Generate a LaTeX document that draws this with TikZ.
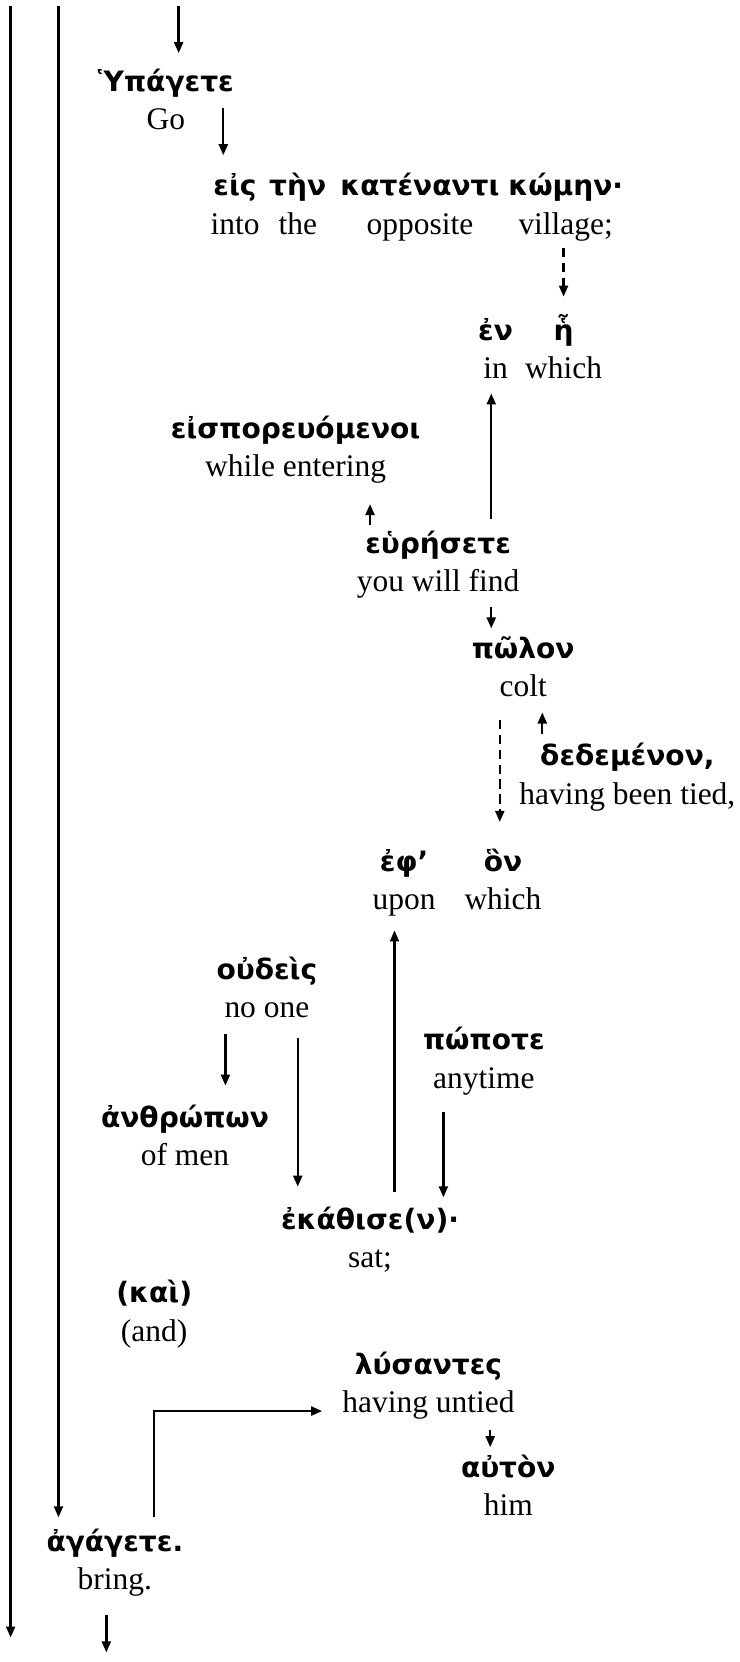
\documentclass[tikz,border=0pt]{standalone}
\usepackage{fontspec}
\setmainfont{Liberation Serif}
\newfontfamily\gkfont{DejaVu Sans}
\newcommand\gk{\gkfont\bfseries\fontsize{13.2}{18}\selectfont}
\newcommand\gw[2]{{\gk\strut #1}\\\strut #2}
\usetikzlibrary{arrows.meta,calc}

\begin{document}
\begin{tikzpicture}[x=.5pt,y=-.5pt,
  wd/.style={align=center,inner sep=0pt,font=\fontsize{14.8}{18}\selectfont},
  arr/.style={-{Triangle[length=5.2pt,width=4.2pt]},line width=1.1pt},
  dsh/.style={arr,dash pattern=on 4.5pt off 2.5pt}]
\useasboundingbox (0,0) rectangle (695,1563);
\node[wd] (hyp) at (156,97) {\gw{Ὑπάγετε}{Go}};
\node[wd] (eis) at (221,195) {\gw{εἰς}{into}};
\node[wd] (ten) at (280,195) {\gw{τὴν}{the}};
\node[wd] (kat) at (395,195) {\gw{κατέναντι}{opposite}};
\node[wd] (kom) at (532,195) {\gw{κώμην·}{village;}};
\node[wd] (en) at (466,331) {\gw{ἐν}{in}};
\node[wd] (he) at (530,331) {\gw{ἧ}{which}};
\node[wd] (eisp) at (278,423) {\gw{εἰσπορευόμενοι}{while entering}};
\node[wd] (heur) at (412,531) {\gw{εὑρήσετε}{you will find}};
\node[wd] (pol) at (492,630) {\gw{πῶλον}{colt}};
\node[wd] (ded) at (590,731) {\gw{δεδεμένον,}{having been tied,}};
\node[wd] (eph) at (380,830) {\gw{ἐφ’}{upon}};
\node[wd] (hon) at (473,830) {\gw{ὃν}{which}};
\node[wd] (oud) at (251,932) {\gw{οὐδεὶς}{no one}};
\node[wd] (popo) at (455,998) {\gw{πώποτε}{anytime}};
\node[wd] (anth) at (174,1071) {\gw{ἀνθρώπων}{of men}};
\node[wd] (ekat) at (348,1167) {\gw{ἐκάθισε(ν)·}{sat;}};
\node[wd] (kai) at (145,1236) {\gw{(καὶ)}{(and)}};
\node[wd] (lys) at (403,1303) {\gw{λύσαντες}{having untied}};
\node[wd] (aut) at (478,1400) {\gw{αὐτὸν}{him}};
\node[wd] (agag) at (108,1470) {\gw{ἀγάγετε.}{bring.}};
\coordinate (topA) at (10,6);
\coordinate (endA) at (10,1540);
\coordinate (topB) at (55,6);
\coordinate (topin) at (168,6);
\coordinate (out) at (100,1554);
\draw[arr] (topA) -- (endA);
\draw[arr] (topB) -- ($(agag)+(-53,-43)$);
\draw[arr] (topin) -- ($(hyp)+(12,-47)$);
\draw[arr] ($(eis)+(-11,-93)$) -- ($(eis)+(-11,-49)$);
\draw[dsh] ($(kom)+(-2,38)$) -- ($(he)+(0,-52)$);
\draw[arr] ($(heur)+(50,-43)$) -- ($(en)+(-4,39)$);
\draw[arr] ($(heur)+(-64,-37)$) -- ($(eisp)+(70,51)$);
\draw[arr] ($(heur)+(50,40)$) -- ($(pol)+(-30,-39)$);
\draw[arr] ($(ded)+(-80,-41)$) -- ($(pol)+(18,40)$);
\draw[dsh] ($(pol)+(-22,47)$) -- ($(hon)+(-3,-57)$);
\draw[arr] ($(ekat)+(23,-46)$) -- ($(eph)+(-9,45)$);
\draw[arr] ($(oud)+(-39,40)$) -- ($(anth)+(38,-50)$);
\draw[arr] ($(oud)+(29,44)$) -- ($(ekat)+(-68,-51)$);
\draw[arr] ($(popo)+(-38,48)$) -- ($(ekat)+(69,-41)$);
\draw[arr] ($(lys)+(58,42)$) -- ($(aut)+(-17,-39)$);
\draw[arr] ($(agag)+(37,-43)$) |- ($(lys)+(-100,24)$);
\draw[arr] ($(agag)+(-8,49)$) -- (out);
\end{tikzpicture}
\end{document}
